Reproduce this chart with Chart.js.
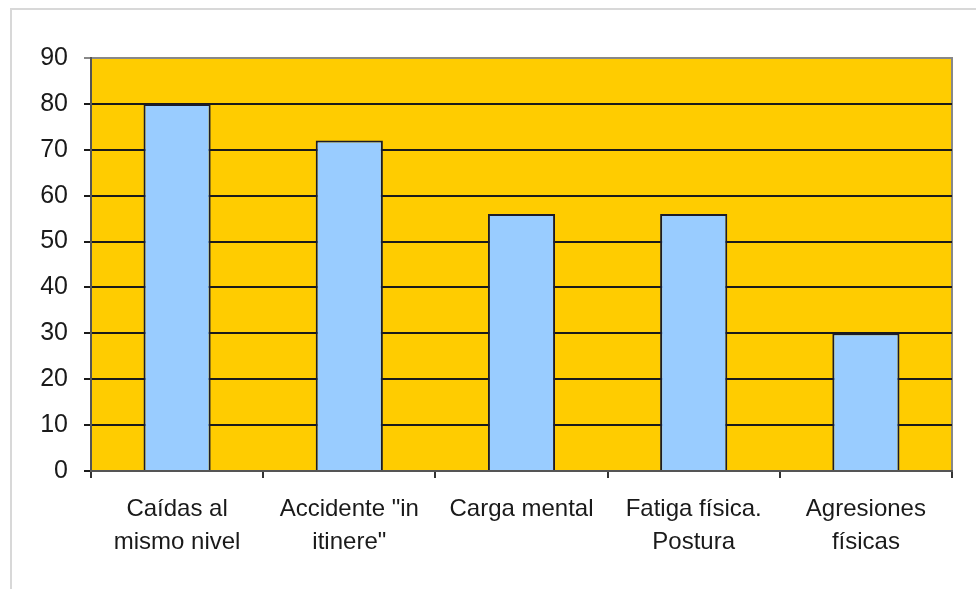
<!DOCTYPE html>
<html>
<head>
<meta charset="utf-8">
<script src="https://cdn.jsdelivr.net/npm/chart.js@4/dist/chart.umd.min.js"></script>
<style>
  html, body { margin: 0; padding: 0; background: #fff; }
  #wrap { width: 976px; height: 589px; position: relative; }
</style>
</head>
<body>
<div id="wrap"><canvas id="riesgosChart"></canvas></div>
<script>
const categories = [
    ['Caídas al', 'mismo nivel'],
    ['Accidente "in', 'itinere"'],
    ['Carga mental'],
    ['Fatiga física.', 'Postura'],
    ['Agresiones', 'físicas']
];
const values = [80, 72, 56, 56, 30];
const yTicks = [0, 10, 20, 30, 40, 50, 60, 70, 80, 90];

const textColor = '#1a1a1a';
const plotFill = '#FFCC00';
const barFill = '#99CCFF';

// orange plot background plus the thin grey frame around the whole chart
const backdrop = {
    id: 'backdrop',
    beforeDraw(chart) {
        const { ctx, chartArea: a } = chart;
        ctx.save();
        ctx.fillStyle = plotFill;
        ctx.fillRect(a.left, a.top, a.right - a.left, a.bottom - a.top);
        ctx.strokeStyle = '#d8d8d8';
        ctx.lineWidth = 2;
        ctx.beginPath();
        ctx.moveTo(11, 600);
        ctx.lineTo(11, 9);
        ctx.lineTo(980, 9);
        ctx.stroke();
        ctx.strokeStyle = '#888';
        ctx.lineWidth = 2;
        ctx.beginPath();
        ctx.moveTo(a.left, a.top);
        ctx.lineTo(a.right, a.top);
        ctx.lineTo(a.right, a.bottom);
        ctx.stroke();
        ctx.restore();
    }
};

const ctx = document.getElementById('riesgosChart');
new Chart(ctx, {
    type: 'bar',
    data: {
        labels: categories,
        datasets: [{
            data: values,
            backgroundColor: barFill,
            borderColor: '#1c1c28',
            borderWidth: 2,
            borderSkipped: 'bottom',
            categoryPercentage: 1,
            barPercentage: 0.39
        }]
    },
    options: {
        responsive: true,
        maintainAspectRatio: false,
        animation: false,
        devicePixelRatio: 1,
        layout: { padding: { top: 58, right: 24, left: 0, bottom: 0 } },
        plugins: {
            legend: { display: false },
            tooltip: { enabled: false }
        },
        scales: {
            x: {
                grid: {
                    offset: true,
                    drawOnChartArea: false,
                    color: '#333',
                    lineWidth: 2,
                    tickLength: 7
                },
                border: { color: '#555', width: 2 },
                ticks: {
                    color: textColor,
                    font: { family: 'Liberation Sans, Arial, sans-serif', size: 24, lineHeight: 1.38 },
                    padding: 15,
                    maxRotation: 0,
                    autoSkip: false
                },
                afterFit(scale) { scale.height = 118; }
            },
            y: {
                min: 0,
                max: 90,
                afterBuildTicks(scale) { scale.ticks = yTicks.map(v => ({ value: v })); },
                grid: {
                    color: ctx => ctx.tick && ctx.tick.value === 90 ? '#888' : '#1a1a1a',
                    lineWidth: 2,
                    tickLength: 7
                },
                border: { color: '#555', width: 2 },
                ticks: {
                    color: textColor,
                    font: { family: 'Liberation Sans, Arial, sans-serif', size: 25 },
                    padding: 16
                },
                afterFit(scale) { scale.width = 91; }
            }
        }
    },
    plugins: [backdrop]
});
</script>
</body>
</html>
